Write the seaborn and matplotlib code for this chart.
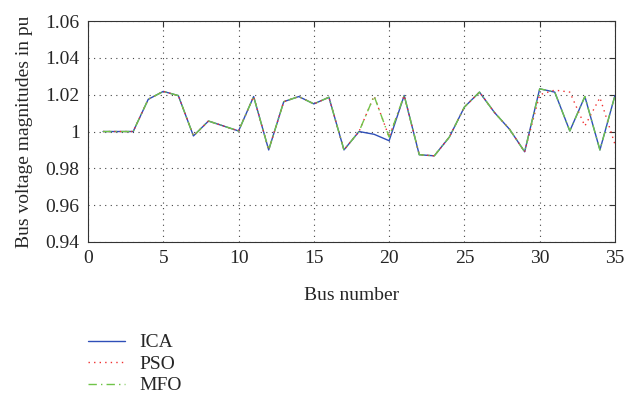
import numpy as np
import pandas as pd
import matplotlib
matplotlib.use('Agg')
import matplotlib.pyplot as plt
import seaborn as sns

# Bus voltage data
bus = list(range(1, 36))
ica = [1.000, 1.000, 1.000, 1.0175, 1.0218, 1.0195, 0.9976, 1.0057, 1.003, 1.0003,
       1.019, 0.990, 1.0162, 1.019, 1.015, 1.0186, 0.990, 1.000, 0.9985, 0.995,
       1.0196, 0.9874, 0.9868, 0.997, 1.0133, 1.0214, 1.0103, 1.0012, 0.989, 1.0232,
       1.0214, 1.0003, 1.019, 0.990, 1.0196]
pso = [1.000, 1.000, 1.000, 1.0175, 1.0218, 1.0195, 0.9976, 1.0057, 1.003, 1.0003,
       1.019, 0.990, 1.0162, 1.019, 1.015, 1.0186, 0.990, 1.000, 1.0193, 0.997,
       1.0196, 0.9874, 0.9868, 0.997, 1.0133, 1.0214, 1.0103, 1.0012, 0.989, 1.020,
       1.0225, 1.0214, 1.003, 1.0184, 0.993]
mfo = [1.000, 1.000, 1.000, 1.0175, 1.0218, 1.0195, 0.9976, 1.0057, 1.003, 1.0003,
       1.019, 0.990, 1.0162, 1.019, 1.015, 1.0186, 0.990, 1.000, 1.0193, 0.997,
       1.0196, 0.9874, 0.9868, 0.997, 1.0133, 1.0214, 1.0103, 1.0012, 0.989, 1.0232,
       1.0214, 1.0003, 1.019, 0.990, 1.0196]

data = pd.DataFrame({'bus': bus, 'ICA': ica, 'PSO': pso, 'MFO': mfo})

sns.set_style('white')
plt.rcParams['font.family'] = ['Liberation Serif', 'DejaVu Serif']
fs = 14

fig = plt.figure(figsize=(6.26, 4.05), dpi=100)
ax = fig.add_axes([0.1406, 0.4025, 0.8418, 0.5455])

sns.lineplot(x='bus', y='ICA', data=data, ax=ax, color='#2f4fb8', lw=1.0,
             linestyle='-', label='ICA')
sns.lineplot(x='bus', y='PSO', data=data, ax=ax, color='#f03030', lw=1.0,
             linestyle=(0, (1, 3)), label='PSO')
sns.lineplot(x='bus', y='MFO', data=data, ax=ax, color='#70c448', lw=1.0,
             linestyle=(0, (6, 3, 1, 3)), label='MFO')

ax.set_xlim(0, 35)
ax.set_ylim(0.94, 1.06)
ax.set_xticks(range(0, 36, 5))
ax.set_yticks([0.94, 0.96, 0.98, 1.00, 1.02, 1.04, 1.06])
ax.set_yticklabels(['0.94', '0.96', '0.98', '1', '1.02', '1.04', '1.06'])
ax.grid(True, linestyle=(0, (1, 4)), color='#444444', lw=0.8)
ax.tick_params(direction='in', length=4, top=True, right=True, labelsize=fs,
               color='#333333', pad=6)
for s in ax.spines.values():
    s.set_color('#333333')
    s.set_linewidth(0.8)
ax.set_xlabel('Bus number', fontsize=fs, labelpad=14)
ax.set_ylabel('Bus voltage magnitudes in pu', fontsize=fs, labelpad=9)

handles, labels = ax.get_legend_handles_labels()
ax.get_legend().remove()
fig.legend(handles, labels, loc='upper left', bbox_to_anchor=(0.128, 0.195),
           frameon=False, fontsize=fs, handlelength=1.9, handletextpad=0.75,
           labelspacing=0.2, borderaxespad=0)

fig.savefig('out.png', dpi=100)
